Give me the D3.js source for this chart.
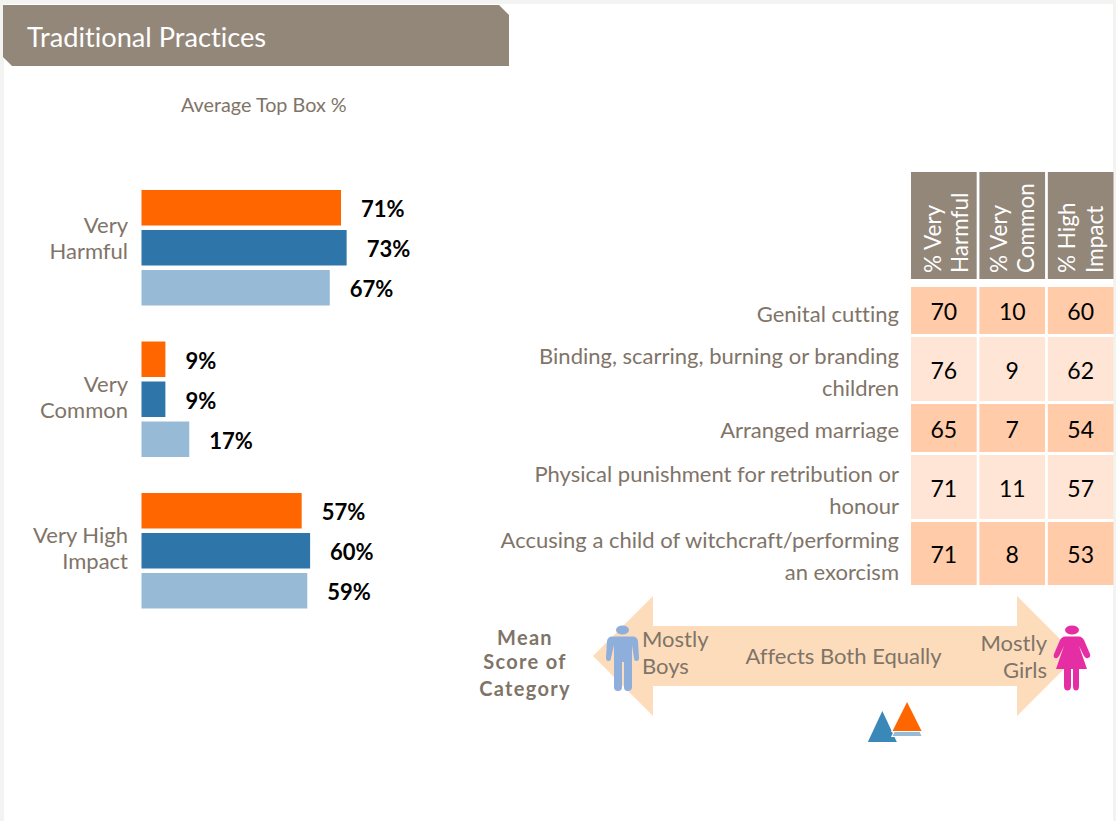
<!DOCTYPE html>
<html><head><meta charset="utf-8">
<script src="https://cdn.jsdelivr.net/npm/d3@7"></script>
<style>html,body{margin:0;padding:0;background:#fff;overflow:hidden}svg{display:block}text{font-variant-ligatures:none}</style>
</head><body><div id="c"></div>
<script>
const measures=["Very Harmful","Very Common","Very High Impact"];
const measureLines=[["Very","Harmful"],["Very","Common"],["Very High","Impact"]];
const seriesNames=["A","B","C"];
const seriesColors=["#ff6600","#2e75aa","#97bad6"];
const seriesValues=[[71,73,67],[8.5,8.5,17],[57,60,59]];
const practices=[["Genital cutting"],["Binding, scarring, burning or branding","children"],["Arranged marriage"],["Physical punishment for retribution or","honour"],["Accusing a child of witchcraft/performing","an exorcism"]];
const colHeaders=[["% Very","Harmful"],["% Very","Common"],["% High","Impact"]];
const tableValues=[[70,10,60],[76,9,62],[65,7,54],[71,11,57],[71,8,53]];
const rowShades=["#ffcba9","#fee5d5","#ffcba9","#fee5d5","#ffcba9"];
const rowHeights=[47,64,48,64,63];
const meanScores=[{c:"#3a88b8",v:0.157},{c:"#97bad6",v:0.267},{c:"#ff6600",v:0.267}];
const FONT="Lato,'Open Sans',sans-serif", GREY="#7f7468", BROWN="#93877a";
const svg=d3.select("#c").append("svg").attr("width",1116).attr("height",821).style("font-family",FONT);
svg.append("rect").attr("width",1116).attr("height",821).attr("fill","#f3f3f1");
svg.append("rect").attr("x",4).attr("y",4).attr("width",1109).attr("height",817).attr("fill","#fff");
// banner
svg.append("path").attr("d","M3 5H499L509 15V66H12L3 57Z").attr("fill",BROWN);
svg.append("text").attr("x",27).attr("y",47).attr("font-size",27.2).attr("fill","#fff").text("Traditional Practices");
svg.append("text").attr("x",181).attr("y",112).attr("font-size",19.8).attr("fill",GREY).text("Average Top Box %");
// bars
const x=d3.scaleLinear().domain([0,100]).range([141.5,422.5]);
const yG=d3.scaleBand().domain(measures).range([190,190+151.5*3]);
const yS=d3.scaleBand().domain(seriesNames).range([0,120]);
const labelBase=[43,50,50];
const g=svg.selectAll(".grp").data(measures).join("g").attr("transform",d=>`translate(0,${yG(d)})`);
g.each(function(m,i){
  const s=d3.select(this);
  seriesNames.forEach((n,j)=>{
    const v=seriesValues[i][j], y=yS(n);
    s.append("rect").attr("x",x(0)).attr("y",y).attr("width",x(v)-x(0)).attr("height",35.5).attr("fill",seriesColors[j]);
    s.append("text").attr("x",x(v)+20).attr("y",y+27).attr("font-size",22).attr("font-weight",700).attr("fill","#000").text(Math.round(v)+"%");
  });
  measureLines[i].forEach((t,k)=>s.append("text").attr("x",128).attr("y",labelBase[i]+k*26).attr("text-anchor","end").attr("font-size",22).attr("fill",GREY).text(t));
});
// table
const xC=d3.scaleBand().domain(d3.range(3)).range([911,1113.5]).paddingInner(0.04);
const rows=[];let acc=287;rowHeights.forEach(h=>{rows.push({y:acc,h});acc+=h+3;});
const headOffset=[30,27.5,27.5], labelOffset=[35,27,34,27,25.5];
colHeaders.forEach((h,c)=>{
  svg.append("rect").attr("x",xC(c)).attr("y",172).attr("width",xC.bandwidth()).attr("height",107).attr("fill",BROWN);
  h.forEach((t,k)=>svg.append("text").attr("transform",`translate(${xC(c)+headOffset[c]+k*27.3},273) rotate(-90)`).attr("font-size",22.5).attr("fill","#fff").text(t));
});
tableValues.forEach((row,r)=>{
  row.forEach((v,c)=>{
    svg.append("rect").attr("x",xC(c)).attr("y",rows[r].y).attr("width",xC.bandwidth()).attr("height",rows[r].h).attr("fill",rowShades[r]);
    svg.append("text").attr("x",xC(c)+xC.bandwidth()/2).attr("y",rows[r].y+rows[r].h/2+9.5).attr("text-anchor","middle").attr("font-size",23).attr("fill","#000").text(v);
  });
  practices[r].forEach((t,k)=>{
    svg.append("text").attr("x",899).attr("y",rows[r].y+labelOffset[r]+k*32).attr("text-anchor","end").attr("font-size",22).attr("fill",GREY).text(t);
  });
});
// arrow
svg.append("path").attr("d","M593 656L653 596V626H1017V596L1077 656L1017 716V686H653V716Z").attr("fill","#fddcbc");
[["Mean",645],["Score of",669],["Category",696]].forEach(([t,y])=>svg.append("text").attr("x",525).attr("y",y).attr("text-anchor","middle").attr("font-size",20).attr("letter-spacing",1.3).attr("font-weight",700).attr("fill",GREY).text(t));
[["Mostly",647],["Boys",674]].forEach(([t,y])=>svg.append("text").attr("x",642).attr("y",y).attr("font-size",22).attr("fill",GREY).text(t));
[["Mostly",651],["Girls",678]].forEach(([t,y])=>svg.append("text").attr("x",1047).attr("y",y).attr("text-anchor","end").attr("font-size",22).attr("fill",GREY).text(t));
svg.append("text").attr("x",843.5).attr("y",664).attr("text-anchor","middle").attr("font-size",22).attr("fill",GREY).text("Affects Both Equally");
// people
svg.append("ellipse").attr("cx",622.5).attr("cy",630).attr("rx",6.5).attr("ry",4.5).attr("fill","#8eaedb");
svg.append("path").attr("fill","#8eaedb").attr("d","M612 636.500H633Q637 636.500 638 641L639 658Q639 661 636.500 661Q634 661 634 658L632 645V687Q632 691 627.500 691Q624 691 624 687V662H622V687Q622 691 618 691Q614 691 614 687V645L611 658Q611 661 608.500 661Q606 661 606 658L607 641Q608 636.500 612 636.500Z");
svg.append("ellipse").attr("cx",1072).attr("cy",630).attr("rx",7).attr("ry",4.5).attr("fill","#e62ea4");
svg.append("path").attr("fill","#e62ea4").attr("d","M1065 636.500H1079Q1082 636.500 1084 640L1090 654Q1091 657 1088 658Q1086 659 1084 656L1079 646L1087 669H1079V686Q1079 690.500 1076 690.500Q1073 690.500 1073 686V669H1071V686Q1071 690.500 1067.500 690.500Q1064 690.500 1064 686V669H1056L1064 646L1059 656Q1057 659 1055 658Q1053 657 1054 654L1060 640Q1062 636.500 1065 636.500Z");
// mean markers
const xM=d3.scaleLinear().domain([-1,1]).range([622,1072]);
const markerBase=[742,736,731], markerH=[31,29,29];
meanScores.forEach((m,i)=>{
  const cx=xM(m.v),b=markerBase[i],h=markerH[i],w=14.5;
  svg.append("path").attr("d",`M${cx} ${b-h}L${cx+w} ${b}H${cx-w}Z`).attr("fill",m.c).attr("stroke","#fff").attr("stroke-width",2).attr("paint-order","stroke");
});
</script></body></html>
